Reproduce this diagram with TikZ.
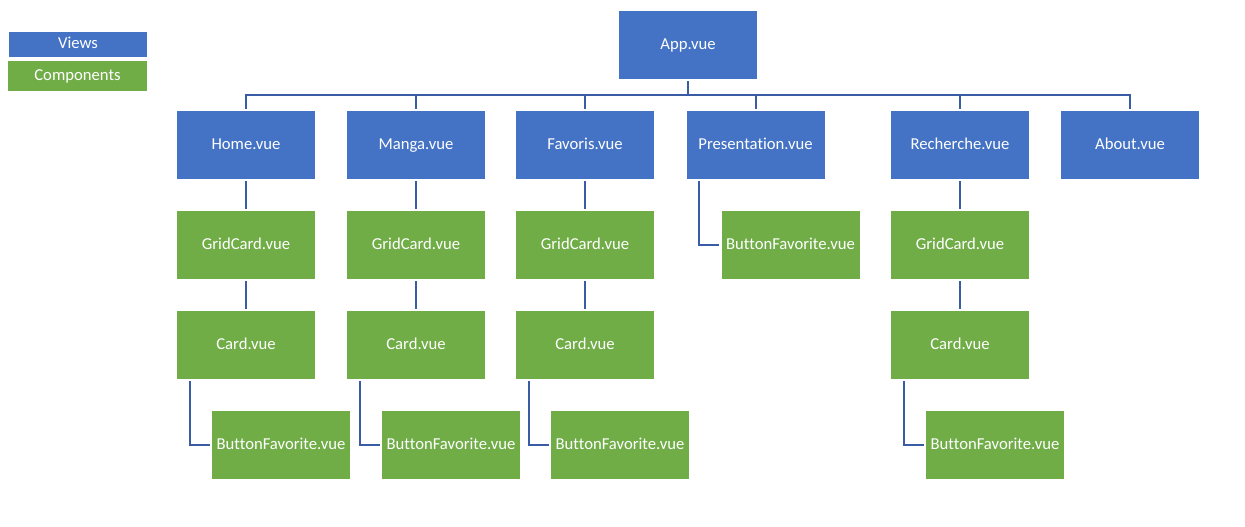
\documentclass[tikz,border=0pt]{standalone}
\usepackage{fontspec}
\setmainfont{Carlito}[Ligatures={NoCommon}]
\usetikzlibrary{positioning}
\definecolor{vueBleu}{RGB}{68,114,196}
\definecolor{vueVert}{RGB}{112,173,71}
\definecolor{lienBleu}{RGB}{58,92,164}
\tikzstyle{vue} = [fill=vueBleu, rectangle, text=white, minimum height=51pt, minimum width=103.5pt, inner sep=0pt, text height=8.5pt, text depth=2.5pt, font=\fontsize{12.5}{14}\selectfont]
\tikzstyle{composant} = [fill=vueVert, rectangle, text=white, minimum height=51pt, minimum width=103.5pt, inner sep=0pt, text height=8.5pt, text depth=2.5pt, font=\fontsize{12.5}{14}\selectfont]
\tikzstyle{lien} = [draw=lienBleu, line width=1.5pt]

\begin{document}
\begin{tikzpicture}[x=0.75pt, y=-0.75pt, node distance=75pt]
    \useasboundingbox (0,0) rectangle (1245,526);
    % legende
    \node [vue, minimum height=18.75pt] (leg_vue) at (78,44) {Views};
    \node [composant, minimum height=22.5pt, minimum width=104.25pt] (leg_comp) at (77.5,76) {Components};

    % vues
    \node [vue] (app) at (688,45) {App.vue};
    \node [vue] (home) at (246,145) {Home.vue};
    \node [vue] (manga) at (416,145) {Manga.vue};
    \node [vue] (favoris) at (585,145) {Favoris.vue};
    \node [vue] (presentation) at (755.5,145) {Presentation.vue};
    \node [vue] (recherche) at (960,145) {Recherche.vue};
    \node [vue] (about) at (1130,145) {About.vue};

    % composants
    \node [composant, below of=home] (grid_home) {GridCard.vue};
    \node [composant, below of=grid_home] (card_home) {Card.vue};
    \node [composant, below of=card_home, xshift=26.25pt] (btn_home) {ButtonFavorite.vue};
    \node [composant, below of=manga] (grid_manga) {GridCard.vue};
    \node [composant, below of=grid_manga] (card_manga) {Card.vue};
    \node [composant, below of=card_manga, xshift=26.25pt] (btn_manga) {ButtonFavorite.vue};
    \node [composant, below of=favoris] (grid_favoris) {GridCard.vue};
    \node [composant, below of=grid_favoris] (card_favoris) {Card.vue};
    \node [composant, below of=card_favoris, xshift=26.25pt] (btn_favoris) {ButtonFavorite.vue};
    \node [composant, below of=presentation, xshift=26.25pt] (btn_presentation) {ButtonFavorite.vue};
    \node [composant, below of=recherche] (grid_recherche) {GridCard.vue};
    \node [composant, below of=grid_recherche] (card_recherche) {Card.vue};
    \node [composant, below of=card_recherche, xshift=26.25pt] (btn_recherche) {ButtonFavorite.vue};

    % liens
    \coordinate (bus) at (0,94.5);
    \draw [lien] ([yshift=-1.5pt]app.south) -- (app.south |- bus);
    \draw [lien] ([yshift=1.5pt]home.north) -- (home.north |- bus) -- (about.north |- bus) -- ([yshift=1.5pt]about.north);
    \foreach \v in {manga,favoris,presentation,recherche}
        \draw [lien] ([yshift=1.5pt]\v.north) -- (\v.north |- bus);
    \foreach \v in {home,manga,favoris,recherche} {
        \draw [lien, shorten <=1.5pt, shorten >=1.5pt] (\v.south) -- (grid_\v.north);
        \draw [lien, shorten <=1.5pt, shorten >=1.5pt] (grid_\v.south) -- (card_\v.north);
        \draw [lien, shorten <=1.5pt, shorten >=1.5pt] ([xshift=9.75pt]card_\v.south west) |- (btn_\v.west);
    }
    \draw [lien, shorten <=1.5pt, shorten >=1.5pt] ([xshift=9.75pt]presentation.south west) |- (btn_presentation.west);
\end{tikzpicture}
\end{document}
